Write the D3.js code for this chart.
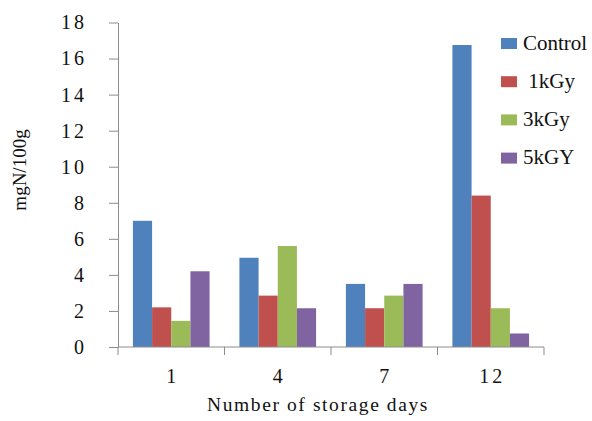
<!DOCTYPE html>
<html><head><meta charset="utf-8">
<script src="https://cdn.jsdelivr.net/npm/d3@7"></script>
<style>body{margin:0;background:#fff}svg{display:block}svg text{font-family:'Liberation Serif',serif}</style>
</head><body><svg id="c" width="592" height="421" style="font-family:'Liberation Serif',serif"></svg>
<script>
const categories = ["1","4","7","12"];
const seriesNames = ["Control","1kGy","3kGy","5kGY"];
const legendLabels = ["Control"," 1kGy","3kGy","5kGY"];
const control = [7.0, 4.95, 3.5, 16.75];
const kGy1 = [2.2, 2.85, 2.15, 8.4];
const kGy3 = [1.45, 5.6, 2.85, 2.15];
const kGy5 = [4.2, 2.15, 3.5, 0.75];
const yTicks = [0,2,4,6,8,10,12,14,16,18];
const colors = ["#4F81BD","#C0504D","#9BBB59","#8064A2"];
const values = [control, kGy1, kGy3, kGy5];

const FONT = "'Liberation Serif', serif";
const svg = d3.select("#c");
const x0 = d3.scaleBand().domain(categories).range([118, 544]).paddingInner(0.28).paddingOuter(0.14);
const x1 = d3.scaleBand().domain(seriesNames).range([0, x0.bandwidth()]);
const y = d3.scaleLinear().domain([0,18]).range([347, 22.5]);

// bars
categories.forEach((c, ci) => {
  const g = svg.append("g").attr("transform", `translate(${x0(c)},0)`);
  g.selectAll("rect").data(seriesNames.map((s, si) => ({s, v: values[si][ci], col: colors[si]})))
    .join("rect")
    .attr("x", d => x1(d.s)).attr("width", x1.bandwidth())
    .attr("y", d => y(d.v)).attr("height", d => y(0) - y(d.v))
    .attr("fill", d => d.col);
});

// y axis
const yAxis = svg.append("g").attr("transform","translate(118,0)")
  .call(d3.axisLeft(y).tickValues(yTicks).tickSize(9).tickPadding(25).tickSizeOuter(0));
yAxis.attr("font-family", FONT);
yAxis.select(".domain").attr("stroke","#8c8c8c");
yAxis.selectAll(".tick line").attr("stroke","#8c8c8c");
yAxis.selectAll("text").attr("font-size",20).attr("font-family",FONT)
  .style("letter-spacing","3px").attr("fill","#111").attr("dx", 3);

// x axis
const xa = svg.append("g").attr("transform","translate(0,347)");
xa.append("line").attr("x1",118).attr("x2",544).attr("y1",0).attr("y2",0).attr("stroke","#8c8c8c");
const edges = categories.map(c => x0(c) - x0.step()*x0.paddingInner()/2).concat([544]);
xa.selectAll("line.t").data(edges).join("line").attr("class","t")
  .attr("x1",d=>d).attr("x2",d=>d).attr("y1",0).attr("y2",8).attr("stroke","#8c8c8c");
xa.selectAll("text.l").data(categories).join("text").attr("class","l")
  .attr("x", c => x0(c) + x0.bandwidth()/2 + 1.5).attr("y", 36)
  .attr("text-anchor","middle").attr("font-size",20).attr("font-family",FONT)
  .attr("fill","#111").style("letter-spacing","3px").text(c=>c);

// axis titles
svg.append("text").attr("x",318).attr("y",411).attr("text-anchor","middle")
  .attr("font-size",19.5).attr("font-family",FONT).attr("fill","#111")
  .style("letter-spacing","1.6px").text("Number of storage days");
svg.append("text").attr("transform","translate(26,170) rotate(-90)").attr("text-anchor","middle")
  .attr("font-size",19).attr("font-family",FONT).attr("fill","#111").text("mgN/100g");

// legend
const lg = svg.append("g").attr("transform","translate(501,38)");
const items = lg.selectAll("g").data(seriesNames).join("g").attr("transform",(d,i)=>`translate(0,${i*38.2})`);
items.append("rect").attr("width",16).attr("height",11).attr("fill",(d,i)=>colors[i]);
items.append("text").attr("x",22).attr("y",11.5).attr("font-size",21).attr("font-family",FONT)
  .attr("fill","#111").attr("xml:space","preserve").style("white-space","pre").text((d,i)=>legendLabels[i]);
</script></body></html>
